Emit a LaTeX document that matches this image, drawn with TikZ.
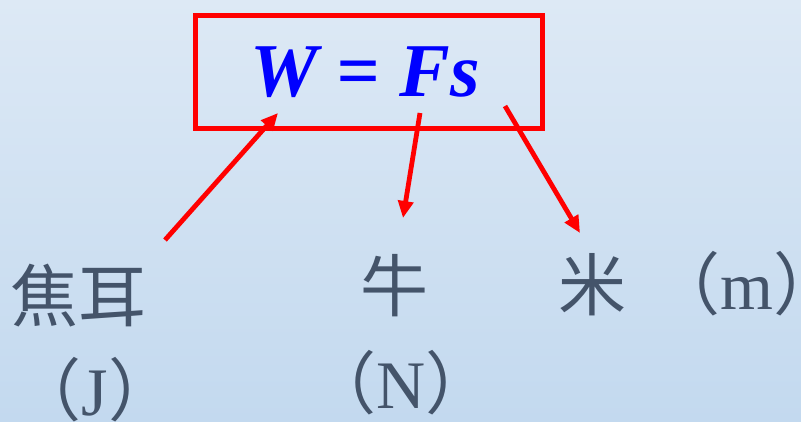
\documentclass[tikz,border=0pt]{standalone}
\usepackage{fontspec}
\setmainfont{Liberation Serif}
\newfontfamily\cjk{Noto Sans CJK SC}
\usetikzlibrary{arrows.meta}
\definecolor{lbl}{RGB}{68,84,106}
\definecolor{bgtop}{RGB}{221,233,245}
\definecolor{bgbot}{RGB}{195,217,239}
\tikzset{
  lab/.style={anchor=base, inner sep=0pt, text=lbl, font=\fontsize{68}{80}\selectfont},
  redarrow/.style={draw=red, line width=4.8pt, -{Triangle[length=17pt,width=15pt]}},
  frame/.style={draw=red, line width=5pt, minimum width=347pt, minimum height=113.5pt, inner sep=0pt}
}
\begin{document}
\begin{tikzpicture}[x=1pt,y=-1pt]
\useasboundingbox (0,0) rectangle (801,421);
\fill[top color=bgtop, bottom color=bgbot] (0,0) rectangle (801,421);
\node[frame] (box) at (368.5,71.75) {};
\node[anchor=base, inner sep=0pt, text=blue, font=\fontsize{76}{90}\selectfont\bfseries\itshape] (eq) at (365,96) {W = Fs};
\node[lab, anchor=base west] (jiao) at (10,321) {\cjk 焦耳};
\node[lab] (J) at (95,415) {{\cjk （}J{\cjk ）}};
\node[lab] (niu) at (394,311) {\cjk 牛};
\node[lab] (N) at (401,408) {{\cjk （}N{\cjk ）}};
\node[lab] (mi) at (592,310) {\cjk 米};
\node[lab] (m) at (747,309) {{\cjk （}m{\cjk ）}};
\coordinate (a1s) at (165,240);
\coordinate (a1e) at (278,113);
\coordinate (a2s) at (420,113);
\coordinate (a2e) at (403,218);
\coordinate (a3s) at (505,106);
\coordinate (a3e) at (580,233);
\draw[redarrow] (a1s) -- (a1e);
\draw[redarrow] (a2s) -- (a2e);
\draw[redarrow] (a3s) -- (a3e);
\end{tikzpicture}
\end{document}
